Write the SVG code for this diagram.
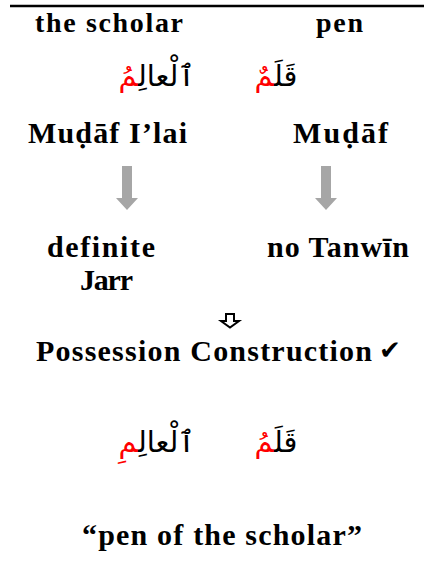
<svg xmlns="http://www.w3.org/2000/svg" width="424" height="587" viewBox="0 0 424 587">
<style>
.lbl{font-family:"Liberation Serif","Times New Roman",serif;font-weight:bold;fill:#000}
.ar{font-family:"DejaVu Sans",sans-serif;font-size:29px;fill:#000}
.red{fill:#ff0000}
.garr{fill:#a6a6a6}
</style>
<rect width="424" height="587" fill="#ffffff"/>
<line x1="10" y1="6" x2="424" y2="6" stroke="#000" stroke-width="2.5"/>
<g id="scholar-en"><text class="lbl" x="35" y="32" font-size="28" textLength="148" lengthAdjust="spacing">the scholar</text></g>
<g id="pen-en"><text class="lbl" x="316" y="32" font-size="28" textLength="47" lengthAdjust="spacing">pen</text></g>
<g id="scholar-ar"><text class="ar" x="157" y="86" text-anchor="middle">ٱلْعالِ<tspan class="red">مُ</tspan></text></g>
<g id="pen-ar"><text class="ar" x="276" y="86" text-anchor="middle">قَلَ<tspan class="red">مٌ</tspan></text></g>
<g id="mudaf-ilai"><text class="lbl" x="28" y="143" font-size="30" textLength="159" lengthAdjust="spacing">Muḍāf I’lai</text></g>
<g id="mudaf"><text class="lbl" x="293" y="143" font-size="30" textLength="95" lengthAdjust="spacing">Muḍāf</text></g>
<g id="connectors">
<polygon class="garr" points="122,166 132,166 132,198 138,198 127,210 116,198 122,198"/>
<polygon class="garr" points="321,166 331,166 331,198 337,198 326,210 315,198 321,198"/>
<polygon points="226,314 234,314 234,321 239,321 230,327.5 221,321 226,321" fill="none" stroke="#000" stroke-width="2" stroke-linejoin="miter"/>
</g>
<g id="definite"><text class="lbl" x="47" y="257" font-size="30" textLength="108" lengthAdjust="spacing">definite</text>
<text class="lbl" x="80" y="290" font-size="30" textLength="53" lengthAdjust="spacing">Jarr</text></g>
<g id="no-tanwin"><text class="lbl" x="267" y="257" font-size="30" textLength="142" lengthAdjust="spacing">no Tanwīn</text></g>
<g id="possession"><text class="lbl" x="36" y="361" font-size="30" textLength="336" lengthAdjust="spacing">Possession Construction</text>
<text x="379" y="359" font-family="DejaVu Sans,sans-serif" font-size="26" fill="#000">✔</text></g>
<g id="result-scholar-ar"><text class="ar" x="157" y="452" text-anchor="middle">ٱلْعالِ<tspan class="red">مِ</tspan></text></g>
<g id="result-pen-ar"><text class="ar" x="276" y="452" text-anchor="middle">قَلَ<tspan class="red">مُ</tspan></text></g>
<g id="translation"><text class="lbl" x="82" y="545" font-size="30" textLength="280" lengthAdjust="spacing">“pen of the scholar”</text></g>
</svg>
